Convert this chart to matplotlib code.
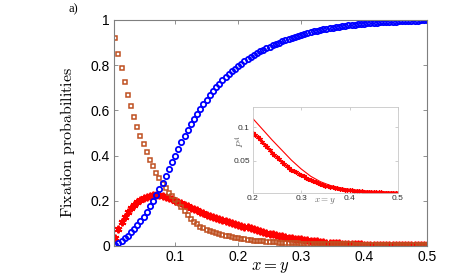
import numpy as np
import matplotlib
matplotlib.use('Agg')
import matplotlib.pyplot as plt

plt.rcParams['mathtext.fontset'] = 'cm'
plt.rcParams['font.family'] = ['Liberation Sans', 'DejaVu Sans']

# x = y grid, step 0.005
x = np.arange(1, 101) * 0.005

# fixation probability of the resident (blue circles)
p_blue = [0.003, 0.012, 0.022, 0.034, 0.046, 0.060, 0.075, 0.092, 0.110, 0.130,
          0.152, 0.175, 0.200, 0.225, 0.250, 0.280, 0.310, 0.340, 0.370, 0.400,
          0.430, 0.460, 0.487, 0.513, 0.538, 0.562, 0.585, 0.607, 0.628, 0.648,
          0.667, 0.685, 0.702, 0.718, 0.733, 0.747, 0.760, 0.773, 0.785, 0.796,
          0.807, 0.817, 0.827, 0.836, 0.845, 0.853, 0.861, 0.868, 0.875, 0.882,
          0.888, 0.894, 0.900, 0.905, 0.911, 0.916, 0.921, 0.926, 0.930, 0.934,
          0.938, 0.942, 0.945, 0.949, 0.952, 0.955, 0.958, 0.961, 0.963, 0.966,
          0.968, 0.970, 0.972, 0.974, 0.976, 0.978, 0.979, 0.981, 0.982, 0.984,
          0.985, 0.986, 0.987, 0.988, 0.989, 0.990, 0.991, 0.992, 0.993, 0.993,
          0.994, 0.995, 0.995, 0.996, 0.996, 0.997, 0.997, 0.998, 0.998, 0.998]

# red stars
p_red = [0.035, 0.075, 0.105, 0.130, 0.150, 0.167, 0.181, 0.193, 0.203, 0.211,
         0.217, 0.221, 0.224, 0.225, 0.224, 0.222, 0.218, 0.213, 0.207, 0.201,
         0.196, 0.190, 0.183, 0.177, 0.170, 0.163, 0.157, 0.150, 0.145, 0.139,
         0.134, 0.129, 0.124, 0.119, 0.114, 0.109, 0.105, 0.100, 0.096, 0.092,
         0.089, 0.086, 0.082, 0.078, 0.074, 0.070, 0.066, 0.062, 0.059, 0.055,
         0.052, 0.049, 0.046, 0.043, 0.040, 0.037, 0.035, 0.033, 0.031, 0.029,
         0.027, 0.025, 0.023, 0.021, 0.020, 0.018, 0.017, 0.015, 0.014, 0.013,
         0.012, 0.011, 0.0105, 0.0098, 0.009, 0.0085, 0.008, 0.0074, 0.0069, 0.0064,
         0.006, 0.0056, 0.0052, 0.0049, 0.0046, 0.0043, 0.0041, 0.0039, 0.0037, 0.0035,
         0.0033, 0.0032, 0.0031, 0.003, 0.0029, 0.0028, 0.0027, 0.0026, 0.0026, 0.0025]

# brown squares
p_brown = [0.920, 0.850, 0.786, 0.726, 0.668, 0.618, 0.571, 0.526, 0.488, 0.450,
           0.415, 0.382, 0.352, 0.324, 0.300, 0.276, 0.255, 0.236, 0.222, 0.205,
           0.188, 0.171, 0.154, 0.137, 0.121, 0.108, 0.096, 0.086, 0.078, 0.071,
           0.065, 0.060, 0.056, 0.052, 0.048, 0.045, 0.042, 0.039, 0.036, 0.034,
           0.032, 0.030, 0.028, 0.026, 0.024, 0.023, 0.021, 0.020, 0.019, 0.018,
           0.017, 0.016, 0.015, 0.014, 0.0135, 0.013, 0.012, 0.0115, 0.011, 0.0105,
           0.010, 0.0098, 0.0095, 0.0092, 0.009, 0.0087, 0.0085, 0.0082, 0.008, 0.0078,
           0.0076, 0.0074, 0.0072, 0.007, 0.0068, 0.0066, 0.0065, 0.0063, 0.0062, 0.006,
           0.0059, 0.0058, 0.0057, 0.0056, 0.0055, 0.0054, 0.0053, 0.0052, 0.0052, 0.0051,
           0.0051, 0.005, 0.005, 0.0049, 0.0049, 0.0048, 0.0048, 0.0047, 0.0047, 0.0046]

# inset: analytical curve for P^A
x_line = [0.20, 0.22, 0.24, 0.26, 0.28, 0.30, 0.32, 0.34, 0.36, 0.38,
          0.40, 0.42, 0.44, 0.46, 0.48, 0.50]
pa_line = [0.113, 0.097, 0.081, 0.066, 0.051, 0.038, 0.027, 0.019, 0.0135, 0.010,
           0.0078, 0.0063, 0.0052, 0.0045, 0.004, 0.0036]

gray = '#7f7f7f'
brown = '#bf5020'

fig = plt.figure(figsize=(4.71, 2.77), dpi=100)
ax = fig.add_axes([0.242, 0.112, 0.665, 0.816])

star = (6, 2, 0)
ax.plot(x, p_red, linestyle='none', marker=star, ms=5.5, mew=1.4, color='red')
ax.plot(x, p_brown, linestyle='none', marker='s', ms=3.3, mew=1.1, mfc='none', mec=brown)
ax.plot(x, p_blue, linestyle='none', marker='o', ms=3.8, mew=1.3, mfc='none', mec='blue')

ax.set_xlim(0.003, 0.5)
ax.set_ylim(0, 1)
ax.set_xticks([0.1, 0.2, 0.3, 0.4, 0.5])
ax.set_xticklabels(['0.1', '0.2', '0.3', '0.4', '0.5'])
ax.set_yticks([0, 0.2, 0.4, 0.6, 0.8, 1])
ax.set_yticklabels(['0', '0.2', '0.4', '0.6', '0.8', '1'])
ax.tick_params(direction='in', length=3, width=0.6, color=gray, labelsize=10,
               top=True, right=True, pad=3)
for s in ax.spines.values():
    s.set_color(gray)
    s.set_linewidth(0.8)
ax.set_xlabel('$x = y$', fontsize=12, labelpad=-3)
ax.set_ylabel(r'$\mathrm{Fixation\ probabilities}$', fontsize=11.5)
ax.yaxis.set_label_coords(-0.118, 0.456)

fig.text(0.145, 0.965, 'a)', fontsize=9, va='center', family='Liberation Serif')

# inset
axin = fig.add_axes([0.5365, 0.305, 0.3085, 0.309])
axin.plot(x[39:], p_red[39:], linestyle='none', marker=star, ms=3.2, mew=0.9, color='red')
axin.plot(x_line, pa_line, color='red', lw=0.8)
axin.set_xlim(0.2, 0.5)
axin.set_ylim(0.003, 0.13)
axin.set_xticks([0.2, 0.3, 0.4, 0.5])
axin.set_xticklabels(['0.2', '0.3', '0.4', '0.5'])
axin.set_yticks([0.05, 0.1])
axin.set_yticklabels(['0.05', '0.1'])
axin.tick_params(direction='in', length=2, width=0.5, color='#bbbbbb', labelsize=6,
                 top=True, right=True, pad=2, labelcolor='#333333')
for s in axin.spines.values():
    s.set_color('#c8c8c8')
    s.set_linewidth(0.6)
axin.text(0.5, -0.1, '$x = y$', transform=axin.transAxes, fontsize=6.5,
          color='#666666', ha='center', va='center')
axin.text(-0.085, 0.6, '$P^A$', transform=axin.transAxes, fontsize=6.5,
          color='#666666', ha='center', va='center', rotation=90)

plt.savefig('out.png', dpi=100)
